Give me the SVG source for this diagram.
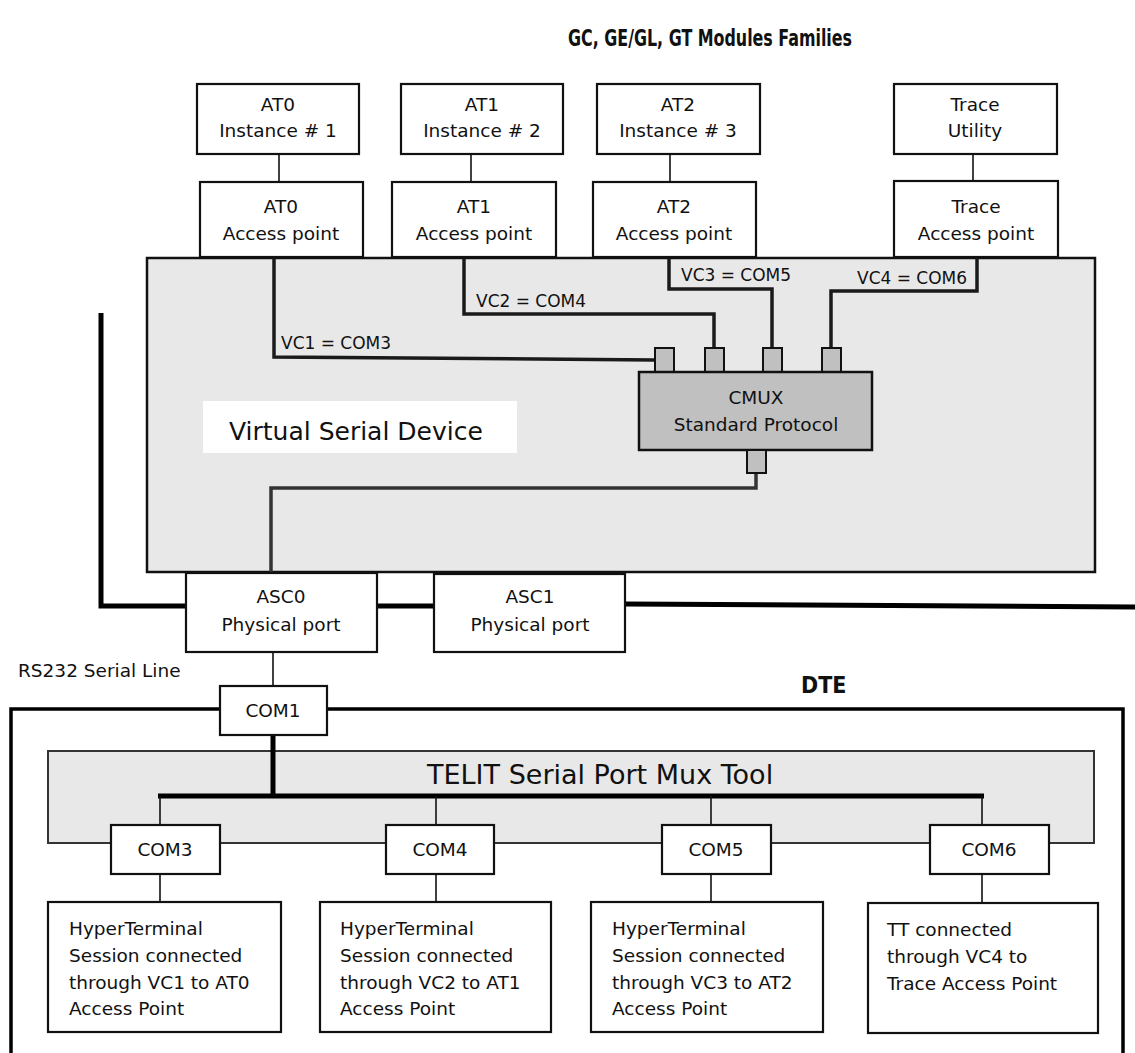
<svg xmlns="http://www.w3.org/2000/svg" width="1135" height="1053" viewBox="0 0 1135 1053">
<style>
.bg{fill:#ffffff}
.box{fill:#ffffff;stroke:#111;stroke-width:2.2}
.gray{fill:#e8e8e8;stroke:#111;stroke-width:2.5}
.gray2{fill:#e8e8e8;stroke:#333;stroke-width:2}
.cmux{fill:#c0c0c0;stroke:#111;stroke-width:2.5}
.port{fill:#c0c0c0;stroke:#111;stroke-width:2}
.thin{fill:none;stroke:#111;stroke-width:1.6}
.vc{fill:none;stroke:#1a1a1a;stroke-width:3.5}
.vc0{fill:none;stroke:#333;stroke-width:3.5}
.thick{fill:none;stroke:#000;stroke-width:5}
.t{font-family:"DejaVu Sans",sans-serif;font-size:18.5px;fill:#111}
.c{text-anchor:middle}
.lbl{font-family:"DejaVu Sans",sans-serif;font-size:17px;fill:#111}
.b{font-family:"DejaVu Sans Condensed","DejaVu Sans",sans-serif;font-weight:bold;fill:#111}
</style>
<rect class="bg" x="0" y="0" width="1135" height="1053"/>
<text class="b c" x="710" y="46" style="font-size:23px" textLength="284" lengthAdjust="spacingAndGlyphs">GC, GE/GL, GT Modules Families</text>

<g id="vsd">
<rect class="gray" x="147" y="258" width="948" height="314"/>
<rect x="203" y="401" width="314" height="52" fill="#fff"/>
<text class="t" x="229" y="440" style="font-size:25px">Virtual Serial Device</text>
</g>

<g id="telit">
<rect class="gray2" x="48" y="751" width="1046" height="92"/>
<text class="t" x="427" y="784" style="font-size:27px">TELIT Serial Port Mux Tool</text>
</g>

<g id="dte"><rect x="11" y="709" width="1112" height="400" fill="none" stroke="#000" stroke-width="3.5"/></g>

<g id="connectors">
<line class="thin" x1="279" y1="154" x2="279" y2="182"/>
<line class="thin" x1="471" y1="154" x2="471" y2="182"/>
<line class="thin" x1="670" y1="154" x2="670" y2="182"/>
<line class="thin" x1="973" y1="154" x2="973" y2="182"/>
<path class="vc" d="M274,257 V357 L655,360"/>
<path class="vc" d="M464,257 V314 H714 V348"/>
<path class="vc" d="M669,257 V289 H772 V348"/>
<path class="vc" d="M977,257 V291 H831 V348"/>
<path class="vc0" d="M756,473 V488 H271 V572"/>
<path class="thick" d="M101,313 V606 H186 M378,606 H434 M625,604 L1135,607"/>
<line class="thin" x1="273" y1="652" x2="273" y2="686"/>
<line class="thick" x1="273" y1="735" x2="273" y2="796"/>
<line class="thick" x1="158" y1="796" x2="984" y2="796"/>
<line class="thin" x1="160" y1="796" x2="160" y2="825"/>
<line class="thin" x1="436" y1="796" x2="436" y2="825"/>
<line class="thin" x1="711" y1="796" x2="711" y2="825"/>
<line class="thin" x1="982" y1="796" x2="982" y2="825"/>
<line class="thin" x1="160" y1="874" x2="160" y2="902"/>
<line class="thin" x1="436" y1="874" x2="436" y2="902"/>
<line class="thin" x1="711" y1="874" x2="711" y2="902"/>
<line class="thin" x1="982" y1="874" x2="982" y2="903"/>
</g>
<g id="vc-labels">
<text class="lbl" x="281" y="349">VC1 = COM3</text>
<text class="lbl" x="476" y="307">VC2 = COM4</text>
<text class="lbl" x="681" y="281">VC3 = COM5</text>
<text class="lbl" x="857" y="284">VC4 = COM6</text>
</g>

<g id="at0-inst"><rect class="box" x="197" y="84" width="162" height="70"/><text class="t c" x="278" y="111">AT0</text><text class="t c" x="278" y="137">Instance # 1</text></g>
<g id="at1-inst"><rect class="box" x="401" y="84" width="162" height="70"/><text class="t c" x="482" y="111">AT1</text><text class="t c" x="482" y="137">Instance # 2</text></g>
<g id="at2-inst"><rect class="box" x="597" y="84" width="163" height="70"/><text class="t c" x="678" y="111">AT2</text><text class="t c" x="678" y="137">Instance # 3</text></g>
<g id="trace-util"><rect class="box" x="894" y="84" width="163" height="70"/><text class="t c" x="975" y="111">Trace</text><text class="t c" x="975" y="137">Utility</text></g>

<g id="at0-ap"><rect class="box" x="200" y="182" width="163" height="75"/><text class="t c" x="281" y="213">AT0</text><text class="t c" x="281" y="240">Access point</text></g>
<g id="at1-ap"><rect class="box" x="392" y="182" width="164" height="75"/><text class="t c" x="474" y="213">AT1</text><text class="t c" x="474" y="240">Access point</text></g>
<g id="at2-ap"><rect class="box" x="593" y="182" width="163" height="75"/><text class="t c" x="674" y="213">AT2</text><text class="t c" x="674" y="240">Access point</text></g>
<g id="trace-ap"><rect class="box" x="894" y="181" width="164" height="76"/><text class="t c" x="976" y="213">Trace</text><text class="t c" x="976" y="240">Access point</text></g>

<g id="cmux">
<rect class="port" x="655" y="348" width="19" height="24"/>
<rect class="port" x="705" y="348" width="19" height="24"/>
<rect class="port" x="763" y="348" width="19" height="24"/>
<rect class="port" x="822" y="348" width="19" height="24"/>
<rect class="cmux" x="639" y="372" width="233" height="78"/>
<rect class="port" x="747" y="450" width="19" height="23"/>
<text class="t c" x="756" y="404">CMUX</text>
<text class="t c" x="756" y="431">Standard Protocol</text>
</g>

<g id="asc0"><rect class="box" x="186" y="573" width="191" height="79"/><text class="t c" x="281" y="603">ASC0</text><text class="t c" x="281" y="631">Physical port</text></g>
<g id="asc1"><rect class="box" x="434" y="574" width="191" height="78"/><text class="t c" x="530" y="603">ASC1</text><text class="t c" x="530" y="631">Physical port</text></g>

<text class="t" x="18" y="677">RS232 Serial Line</text>
<text class="b" x="801" y="693" style="font-size:23px">DTE</text>

<g id="com1"><rect class="box" x="220" y="686" width="107" height="49"/><text class="t c" x="273" y="717">COM1</text></g>

<g id="com3"><rect class="box" x="111" y="825" width="109" height="49"/><text class="t c" x="165" y="856">COM3</text></g>
<g id="com4"><rect class="box" x="386" y="825" width="108" height="49"/><text class="t c" x="440" y="856">COM4</text></g>
<g id="com5"><rect class="box" x="662" y="825" width="109" height="49"/><text class="t c" x="716" y="856">COM5</text></g>
<g id="com6"><rect class="box" x="930" y="825" width="119" height="49"/><text class="t c" x="989" y="856">COM6</text></g>

<g id="ht1"><rect class="box" x="48" y="902" width="233" height="130"/>
<text class="t" x="69" y="935">HyperTerminal</text><text class="t" x="69" y="962">Session connected</text><text class="t" x="69" y="989">through VC1 to AT0</text><text class="t" x="69" y="1015">Access Point</text></g>
<g id="ht2"><rect class="box" x="320" y="902" width="231" height="130"/>
<text class="t" x="340" y="935">HyperTerminal</text><text class="t" x="340" y="962">Session connected</text><text class="t" x="340" y="989">through VC2 to AT1</text><text class="t" x="340" y="1015">Access Point</text></g>
<g id="ht3"><rect class="box" x="591" y="902" width="232" height="130"/>
<text class="t" x="612" y="935">HyperTerminal</text><text class="t" x="612" y="962">Session connected</text><text class="t" x="612" y="989">through VC3 to AT2</text><text class="t" x="612" y="1015">Access Point</text></g>
<g id="tt"><rect class="box" x="868" y="903" width="230" height="130"/>
<text class="t" x="887" y="936">TT connected</text><text class="t" x="887" y="963">through VC4 to</text><text class="t" x="887" y="990">Trace Access Point</text></g>
</svg>
